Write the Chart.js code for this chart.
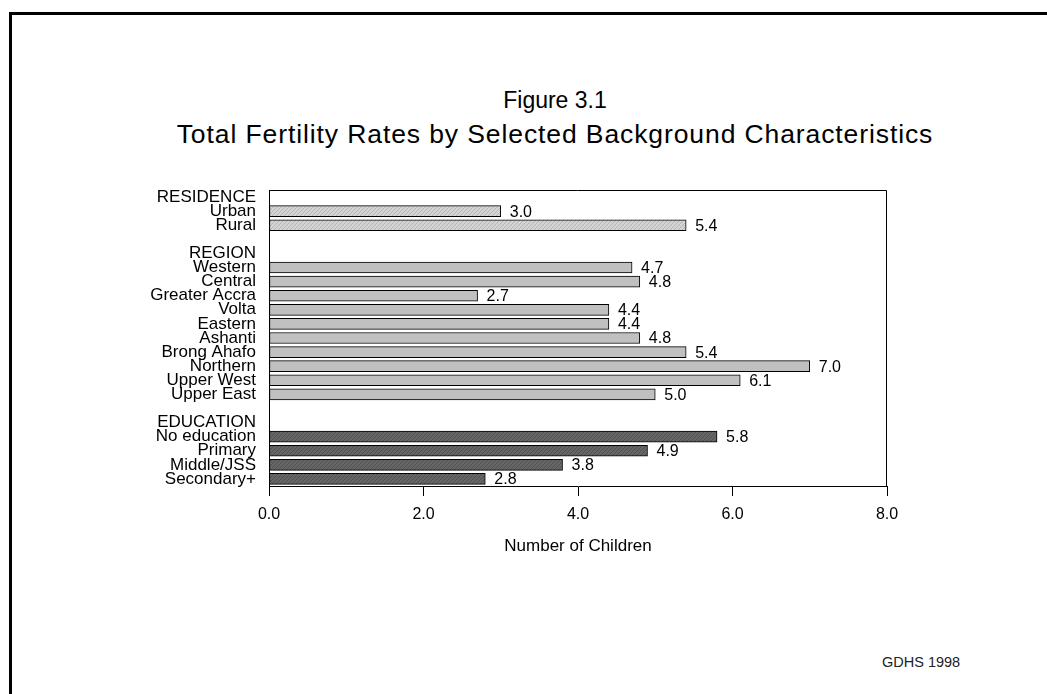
<!DOCTYPE html>
<html>
<head>
<meta charset="utf-8">
<script src="https://cdn.jsdelivr.net/npm/chart.js@4"></script>
<style>
  html, body { margin: 0; padding: 0; background: #fff; }
  body { width: 1047px; height: 694px; position: relative; overflow: hidden; font-family: "Liberation Sans", Arial, sans-serif; }
  .frame { position: absolute; left: 9px; top: 12px; width: 1100px; height: 800px; border-left: 3px solid #000; border-top: 3px solid #000; }
  .title { position: absolute; left: 0; width: 1110px; text-align: center; color: #000; white-space: nowrap; }
  .source { position: absolute; left: 882px; top: 654px; font-size: 14.5px; color: #222; }
  canvas { position: absolute; left: 0; top: 0; }
</style>
</head>
<body>
<div class="frame"></div>
<div class="title" style="top:87px; font-size:23px;">Figure 3.1</div>
<div class="title" style="top:119px; font-size:26.5px; letter-spacing:0.9px;">Total Fertility Rates by Selected Background Characteristics</div>
<div class="source">GDHS 1998</div>
<canvas id="tfrChart" width="1047" height="694"></canvas>
<script>
// Row labels (group headers have no value)
const categories = [
  'RESIDENCE', 'Urban', 'Rural', '',
  'REGION', 'Western', 'Central', 'Greater Accra', 'Volta', 'Eastern', 'Ashanti',
  'Brong Ahafo', 'Northern', 'Upper West', 'Upper East', '',
  'EDUCATION', 'No education', 'Primary', 'Middle/JSS', 'Secondary+'
];
const tfrValues = [
  null, 3.0, 5.4, null,
  null, 4.7, 4.8, 2.7, 4.4, 4.4, 4.8,
  5.4, 7.0, 6.1, 5.0, null,
  null, 5.8, 4.9, 3.8, 2.8
];
const groups = [
  null, 'res', 'res', null,
  null, 'reg', 'reg', 'reg', 'reg', 'reg', 'reg',
  'reg', 'reg', 'reg', 'reg', null,
  null, 'edu', 'edu', 'edu', 'edu'
];
const xTicks = [0, 2, 4, 6, 8];

const FONT = '"Liberation Sans", Arial, sans-serif';

function hatch(base, line) {
  const c = document.createElement('canvas');
  c.width = 4; c.height = 4;
  const g = c.getContext('2d');
  g.fillStyle = base;
  g.fillRect(0, 0, 4, 4);
  g.strokeStyle = line;
  g.lineWidth = 1;
  g.beginPath();
  g.moveTo(0, 4); g.lineTo(4, 0);
  g.stroke();
  return g.createPattern(c, 'repeat');
}

const fills = {
  res: hatch('#d4d4d4', '#b4b4b4'),
  reg: '#c0c0c0',
  edu: hatch('#666666', '#505050')
};

// value labels + box top/right
const extras = {
  id: 'extras',
  afterDatasetsDraw(chart) {
    const ctx = chart.ctx;
    const meta = chart.getDatasetMeta(0);
    ctx.save();
    ctx.font = '16px ' + FONT;
    ctx.fillStyle = '#000';
    ctx.textBaseline = 'middle';
    ctx.textAlign = 'left';
    meta.data.forEach((bar, i) => {
      const v = tfrValues[i];
      if (v === null) return;
      ctx.fillText(v.toFixed(1), bar.x + 9, bar.y + 1);
    });
    const a = chart.chartArea;
    ctx.strokeStyle = '#000';
    ctx.lineWidth = 1;
    ctx.beginPath();
    ctx.moveTo(a.left, a.top + 0.5);
    ctx.lineTo(a.right - 0.5, a.top + 0.5);
    ctx.lineTo(a.right - 0.5, a.bottom);
    ctx.stroke();
    ctx.restore();
  }
};

new Chart(document.getElementById('tfrChart'), {
  type: 'bar',
  data: {
    labels: categories,
    datasets: [{
      data: tfrValues,
      backgroundColor: groups.map(g => g ? fills[g] : 'transparent'),
      borderColor: '#000',
      borderWidth: 1,
      borderSkipped: false,
      barThickness: 11
    }]
  },
  options: {
    indexAxis: 'y',
    responsive: false,
    animation: false,
    layout: { padding: { left: 149, right: 160, top: 190, bottom: 0 } },
    plugins: { legend: { display: false }, tooltip: { enabled: false } },
    scales: {
      x: {
        min: 0,
        max: 8,
        afterBuildTicks: scale => { scale.ticks = xTicks.map(v => ({ value: v })); },
        afterFit: scale => { scale.height = 694 - 486; },
        grid: { drawOnChartArea: false, drawTicks: true, tickLength: 10, color: '#000' },
        border: { display: true, color: '#000', width: 1 },
        ticks: {
          padding: 9,
          color: '#000',
          font: { family: FONT, size: 16 },
          callback: v => v.toFixed(1)
        },
        title: {
          display: true,
          text: 'Number of Children',
          color: '#000',
          font: { family: FONT, size: 17 },
          padding: { top: 0, bottom: 137 }
        }
      },
      y: {
        afterFit: scale => { scale.width = 120; },
        grid: { display: false },
        border: { display: true, color: '#000', width: 1 },
        ticks: {
          autoSkip: false,
          padding: 5,
          color: '#000',
          font: { family: FONT, size: 17, lineHeight: 1 }
        }
      }
    }
  },
  plugins: [extras]
});
</script>
</body>
</html>
